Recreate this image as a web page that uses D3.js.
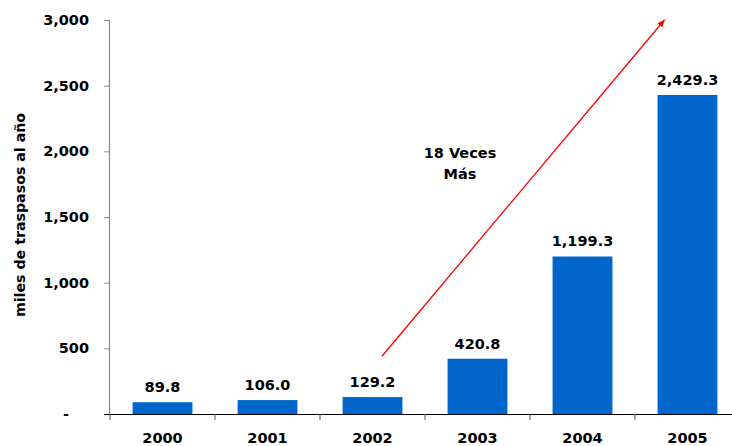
<!DOCTYPE html>
<html>
<head>
<meta charset="utf-8">
<script src="https://cdn.jsdelivr.net/npm/d3@7"></script>
<style>
  html, body { margin: 0; padding: 0; background: #fff; }
  svg { display: block; }
  text { font-family: "DejaVu Sans", Verdana, sans-serif; font-weight: bold; fill: #000; }
</style>
</head>
<body>
<svg id="chart" width="732" height="446"></svg>
<script>
const categories = ["2000", "2001", "2002", "2003", "2004", "2005"];
const values = [89.8, 106.0, 129.2, 420.8, 1199.3, 2429.3];
const yTicks = [0, 500, 1000, 1500, 2000, 2500, 3000];
const yTitle = "miles de traspasos al año";
const annotationLines = ["18 Veces", "Más"];
// arrow in data units: [band position (category index units), value]
const arrowFrom = [2.59, 440];
const arrowTo = [5.28, 3000];

const svg = d3.select("#chart");
const mLeft = 110, mRight = 740, mTop = 20, mBottom = 414;

const x = d3.scaleBand().domain(categories).range([mLeft, mRight]).paddingInner(0.43).paddingOuter(0.215);
const y = d3.scaleLinear().domain([0, 3000]).range([mBottom, mTop]);
const xPos = d3.scaleLinear().domain([0, categories.length]).range([mLeft, mRight]);

// bars
svg.append("g").selectAll("rect").data(values).join("rect")
  .attr("x", (d, i) => x(categories[i]))
  .attr("y", d => y(d))
  .attr("width", x.bandwidth())
  .attr("height", d => y(0) - y(d))
  .attr("fill", "#0066CC");

// value labels
const fmt = d3.format(",.1f");
svg.append("g").selectAll("text").data(values).join("text")
  .attr("x", (d, i) => x(categories[i]) + x.bandwidth() / 2)
  .attr("y", d => y(d) - 10)
  .attr("text-anchor", "middle")
  .style("font-size", "14.5px")
  .text(d => fmt(d));

// y axis
const yAxis = svg.append("g").attr("transform", `translate(${mLeft - 1},0)`)
  .call(d3.axisLeft(y).tickValues(yTicks).tickSize(5).tickPadding(15)
    .tickFormat(d => d === 0 ? "-" : d3.format(",")(d)));
yAxis.select(".domain").attr("stroke", "#888").attr("stroke-width", 1.2);
yAxis.selectAll(".tick line").attr("stroke", "#888");
yAxis.selectAll(".tick text").style("font-size", "14.5px").style("font-family", "\"DejaVu Sans\", Verdana, sans-serif")
  .attr("dx", d => d === 0 ? -20 : 0);

// x axis
const xAxis = svg.append("g").attr("transform", `translate(0,${mBottom})`)
  .call(d3.axisBottom(x).tickSize(0).tickPadding(19));
xAxis.select(".domain").attr("stroke", "#000").attr("d", `M${mLeft - 6},0.5H${mRight}`);
xAxis.selectAll(".tick text").style("font-size", "14.5px").style("font-family", "\"DejaVu Sans\", Verdana, sans-serif");
xAxis.append("g").selectAll("line").data(d3.range(categories.length)).join("line")
  .attr("x1", i => xPos(i)).attr("x2", i => xPos(i))
  .attr("y1", 0).attr("y2", 6).attr("stroke", "#555");

// y title
svg.append("text")
  .attr("transform", `translate(25,${(mTop + mBottom) / 2 - 2}) rotate(-90)`)
  .attr("text-anchor", "middle")
  .style("font-size", "14.2px")
  .text(yTitle);

// arrow
svg.append("defs").append("marker")
  .attr("id", "ah").attr("viewBox", "0 0 10 10").attr("refX", 9).attr("refY", 5)
  .attr("markerWidth", 6).attr("markerHeight", 6).attr("orient", "auto")
  .append("path").attr("d", "M0,1L10,5L0,9Z").attr("fill", "#FF0000");
svg.append("line")
  .attr("x1", xPos(arrowFrom[0])).attr("y1", y(arrowFrom[1]))
  .attr("x2", xPos(arrowTo[0])).attr("y2", y(arrowTo[1]))
  .attr("stroke", "#FF0000").attr("stroke-width", 1.3)
  .attr("marker-end", "url(#ah)");

// annotation
svg.append("g").selectAll("text").data(annotationLines).join("text")
  .attr("x", 460).attr("y", (d, i) => 158 + i * 21)
  .attr("text-anchor", "middle")
  .style("font-size", "14.5px")
  .text(d => d);
</script>
</body>
</html>
